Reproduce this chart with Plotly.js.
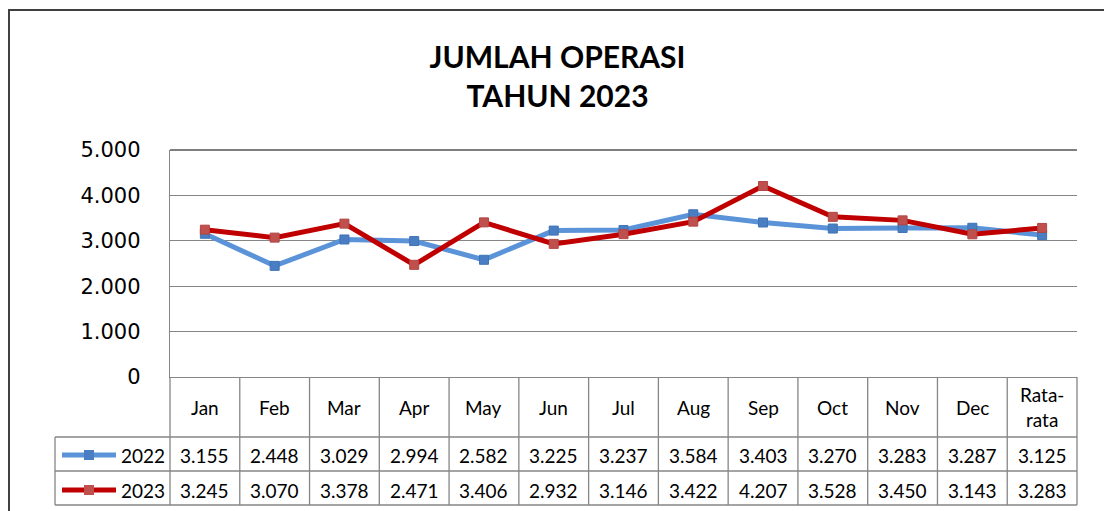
<!DOCTYPE html>
<html>
<head>
<meta charset="utf-8">
<script src="https://cdn.plot.ly/plotly-3.0.1.min.js"></script>
<style>html,body{margin:0;padding:0;background:#fff;}#chart{width:1104px;height:511px;}</style>
</head>
<body>
<div id="chart"></div>
<script>
// ---- data ----
const categories = ['Jan','Feb','Mar','Apr','May','Jun','Jul','Aug','Sep','Oct','Nov','Dec','Rata-rata'];
const series2022 = [3155,2448,3029,2994,2582,3225,3237,3584,3403,3270,3283,3287,3125];
const series2023 = [3245,3070,3378,2471,3406,2932,3146,3422,4207,3528,3450,3143,3283];
const seriesNames = ['2022','2023'];
const yTickVals = [0,1000,2000,3000,4000,5000];
const titleText = 'JUMLAH OPERASI<br>TAHUN 2023';

// ---- geometry helpers (pixels -> paper) ----
const W = 1104, H = 511;
const L = 170, R = 1077, T = 150, B = 377;
const px = p => (p - L) / (R - L);
const py = p => (B - p) / (B - T);

const blueLine = '#5B93D8', blueMarker = '#4A7EC2';
const redLine = '#C00000', redMarker = '#C0504D';
const grid = '#868686';
const tableFont = {family: 'Lato, Carlito, sans-serif', size: 19, color: '#000'};

function fmt(v) {
  if (v < 1000) return String(v);
  return Math.floor(v / 1000) + '.' + String(v % 1000).padStart(3, '0');
}

const xIdx = categories.map((c, i) => i);

const traces = [
  {x: xIdx, y: series2022, name: seriesNames[0], type: 'scatter', mode: 'lines+markers',
   line: {color: blueLine, width: 5}, marker: {symbol: 'square', size: 9, color: blueMarker, line: {color: '#3F72B5', width: 1}}},
  {x: xIdx, y: series2023, name: seriesNames[1], type: 'scatter', mode: 'lines+markers',
   line: {color: redLine, width: 5}, marker: {symbol: 'square', size: 9, color: redMarker, line: {color: '#B04643', width: 1}}}
];

const shapes = [];
const annotations = [];
const lineStyle = {color: grid, width: 1.3};

// top gridline at 5.000
shapes.push({type: 'line', xref: 'paper', yref: 'paper', x0: 0, x1: 1, y0: 1, y1: 1, line: {color: '#555', width: 1.3}});

// row boundaries
const rowTop = 377, row1 = 437, row2 = 471, row3 = 505, legLeft = 55;
// vertical lines of table
for (let k = 0; k <= categories.length; k++) {
  shapes.push({type: 'line', xref: 'paper', yref: 'paper', x0: k / categories.length, x1: k / categories.length,
    y0: py(rowTop), y1: py(row3), line: lineStyle});
}
shapes.push({type: 'line', xref: 'paper', yref: 'paper', x0: px(legLeft), x1: px(legLeft), y0: py(row1), y1: py(row3), line: lineStyle});
[row1, row2, row3].forEach(r => shapes.push({type: 'line', xref: 'paper', yref: 'paper', x0: px(legLeft), x1: 1, y0: py(r), y1: py(r), line: lineStyle}));

// outer frame (left & top)
shapes.push({type: 'path', xref: 'paper', yref: 'paper',
  path: `M ${px(9)} ${py(530)} L ${px(9)} ${py(10)} L ${px(1120)} ${py(10)}`, line: {color: '#404040', width: 2}});

// legend keys inside table
const legRows = [{y: 455, line: blueLine, mk: blueMarker, name: seriesNames[0]}, {y: 490, line: redLine, mk: redMarker, name: seriesNames[1]}];
legRows.forEach(r => {
  shapes.push({type: 'line', xref: 'paper', yref: 'paper', x0: px(62), x1: px(116), y0: py(r.y), y1: py(r.y), line: {color: r.line, width: 5}});
  shapes.push({type: 'rect', xref: 'paper', yref: 'paper', x0: px(84), x1: px(94), y0: py(r.y - 5), y1: py(r.y + 5), fillcolor: r.mk, line: {width: 0}});
  annotations.push({xref: 'paper', yref: 'paper', x: px(119), y: py(r.y), xanchor: 'left', yanchor: 'middle', text: r.name, showarrow: false, font: tableFont});
});

// category row and values
categories.forEach((c, i) => {
  annotations.push({xref: 'x', yref: 'paper', x: i, y: py(407), text: c.replace('-', '-<br>'), showarrow: false,
    xanchor: 'center', yanchor: 'middle', font: tableFont});
  annotations.push({xref: 'x', yref: 'paper', x: i, y: py(455), text: fmt(series2022[i]), showarrow: false,
    xanchor: 'center', yanchor: 'middle', font: tableFont});
  annotations.push({xref: 'x', yref: 'paper', x: i, y: py(490), text: fmt(series2023[i]), showarrow: false,
    xanchor: 'center', yanchor: 'middle', font: tableFont});
});

const layout = {
  width: W, height: H,
  margin: {l: L, r: W - R, t: T, b: H - B, pad: 0},
  paper_bgcolor: '#fff', plot_bgcolor: '#fff',
  separators: ',.',
  showlegend: false,
  title: {text: titleText, xref: 'container', yref: 'container', x: 0.505, y: 1 - 68 / H, xanchor: 'center', yanchor: 'top',
    font: {family: 'Lato, sans-serif', size: 30, color: '#000', weight: 'bold'}},
  xaxis: {range: [-0.5, categories.length - 0.5], showticklabels: false, showgrid: false, zeroline: false,
    showline: true, linecolor: grid, linewidth: 1.3, ticks: '', fixedrange: true},
  yaxis: {range: [0, 5000], tickvals: yTickVals, tickformat: ',d', showgrid: true, gridcolor: grid, gridwidth: 1.3,
    zeroline: false, showline: true, linecolor: grid, linewidth: 1.3, ticks: '', ticklabelstandoff: 24,
    tickfont: {family: 'DejaVu Sans, sans-serif', size: 21, color: '#000'}, fixedrange: true},
  shapes: shapes,
  annotations: annotations
};

Plotly.newPlot('chart', traces, layout, {displayModeBar: false, staticPlot: true});
</script>
</body>
</html>
